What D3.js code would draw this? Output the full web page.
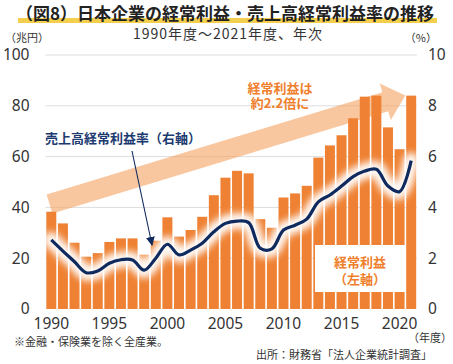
<!DOCTYPE html>
<html>
<head>
<meta charset="utf-8">
<script src="https://cdn.jsdelivr.net/npm/d3@7"></script>
<style>
  body { margin: 0; background: #fff; }
  svg { display: block; }
  .jp { font-family: "Noto Sans CJK JP", "Noto Sans", sans-serif; }
  .num { font-family: "Noto Sans", "Noto Sans CJK JP", sans-serif; }
</style>
</head>
<body>
<svg id="chart" width="453" height="364"></svg>
<script>
// data
const years = [1990, 1991, 1992, 1993, 1994, 1995, 1996, 1997, 1998, 1999,
  2000, 2001, 2002, 2003, 2004, 2005, 2006, 2007, 2008, 2009,
  2010, 2011, 2012, 2013, 2014, 2015, 2016, 2017, 2018, 2019, 2020, 2021];
// 経常利益 (兆円)
const profit = [38.3, 33.7, 26.1, 20.6, 22.0, 26.4, 27.8, 27.8, 21.4, 26.9,
  36.1, 28.5, 31.1, 36.3, 44.8, 51.7, 54.4, 53.4, 35.4, 32.0,
  43.9, 45.5, 48.5, 59.6, 64.4, 68.4, 75.1, 83.6, 84.0, 71.5, 62.9, 84.0];
// 売上高経常利益率 (%)
const ratio = [2.72, 2.28, 1.86, 1.43, 1.50, 1.80, 1.94, 1.93, 1.53, 2.00,
  2.55, 2.13, 2.32, 2.59, 3.04, 3.37, 3.46, 3.40, 2.39, 2.37,
  3.11, 3.30, 3.54, 4.22, 4.49, 4.84, 5.21, 5.43, 5.50, 4.84, 4.62, 5.84];
const leftTicks = [0, 20, 40, 60, 80, 100];
const rightTicks = [0, 2, 4, 6, 8, 10];
const xTicks = [1990, 1995, 2000, 2005, 2010, 2015, 2020];

const orange = "#ee8133";
const navy = "#0f2a5e";

const svg = d3.select("#chart");
const plot = { left: 45.5, right: 417, top: 55, bottom: 309 };

// scales
const x = d3.scaleBand()
  .domain(years)
  .range([plot.left, plot.right])
  .paddingInner(0.14)
  .paddingOuter(0.07);
const yL = d3.scaleLinear().domain([0, 100]).range([plot.bottom, plot.top]);
const yR = d3.scaleLinear().domain([0, 10]).range([plot.bottom, plot.top]);

const defs = svg.append("defs");
defs.append("filter")
  .attr("id", "glow")
  .attr("x", "-10%").attr("y", "-50%")
  .attr("width", "120%").attr("height", "200%")
  .append("feGaussianBlur")
  .attr("stdDeviation", 3.5);
defs.append("marker")
  .attr("id", "head")
  .attr("viewBox", "0 0 10 10")
  .attr("refX", 9).attr("refY", 5)
  .attr("markerWidth", 9).attr("markerHeight", 9)
  .attr("markerUnits", "userSpaceOnUse")
  .attr("orient", "auto")
  .append("path")
  .attr("d", "M0,0 L10,5 L0,10 z")
  .attr("fill", navy);

// title
svg.append("rect")
  .attr("x", 18).attr("y", 18)
  .attr("width", 419).attr("height", 5)
  .attr("fill", "#f4cf4e");
svg.append("text")
  .attr("class", "jp")
  .attr("x", 225).attr("y", 19.5)
  .attr("text-anchor", "middle")
  .attr("font-size", 17)
  .attr("font-weight", 700)
  .attr("fill", "#222")
  .text("（図8）日本企業の経常利益・売上高経常利益率の推移");
svg.append("text")
  .attr("class", "jp")
  .attr("x", 228).attr("y", 38.5)
  .attr("text-anchor", "middle")
  .attr("font-size", 14)
  .attr("letter-spacing", 1)
  .attr("fill", "#333")
  .text("1990年度～2021年度、年次");

svg.append("text")
  .attr("class", "jp")
  .attr("x", 5).attr("y", 42)
  .attr("font-size", 11)
  .attr("fill", "#333")
  .text("（兆円）");
svg.append("text")
  .attr("class", "jp")
  .attr("x", 437).attr("y", 42)
  .attr("text-anchor", "end")
  .attr("font-size", 11)
  .attr("fill", "#333")
  .text("（%）");

// gridlines
svg.append("g")
  .selectAll("line")
  .data(leftTicks.filter(d => d > 0))
  .join("line")
  .attr("x1", plot.left).attr("x2", plot.right)
  .attr("y1", d => yL(d)).attr("y2", d => yL(d))
  .attr("stroke", "#dddddd")
  .attr("stroke-width", 1);

// big growth arrow (behind the bars)
const start = [49.5, 204], base = [385.3, 101.7];
const ang = Math.atan2(base[1] - start[1], base[0] - start[0]) * 180 / Math.PI;
const len = Math.hypot(base[0] - start[0], base[1] - start[1]);
const hw = 10, hh = 19, hl = 21;
svg.append("path")
  .attr("transform", `translate(${start[0]},${start[1]}) rotate(${ang})`)
  .attr("d", `M0,${-hw} L${len},${-hw} L${len},${-hh} L${len + hl},0 L${len},${hh} L${len},${hw} L0,${hw} Z`)
  .attr("fill", "#f5a15f")
  .attr("opacity", 0.6);

// bars
svg.append("g")
  .selectAll("rect")
  .data(years)
  .join("rect")
  .attr("x", d => x(d))
  .attr("y", (d, i) => yL(profit[i]))
  .attr("width", x.bandwidth())
  .attr("height", (d, i) => yL(0) - yL(profit[i]))
  .attr("fill", orange);

// ratio line with white halo
const line = d3.line()
  .x((d, i) => x(years[i]) + x.bandwidth() / 2)
  .y(d => yR(d))
  .curve(d3.curveCatmullRom.alpha(0.5));

svg.append("path")
  .datum(ratio)
  .attr("d", line)
  .attr("fill", "none")
  .attr("stroke", "#fff")
  .attr("stroke-width", 16)
  .attr("stroke-linecap", "round")
  .attr("stroke-linejoin", "round")
  .attr("opacity", 0.95)
  .attr("filter", "url(#glow)");
svg.append("path")
  .datum(ratio)
  .attr("d", line)
  .attr("fill", "none")
  .attr("stroke", navy)
  .attr("stroke-width", 3.2)
  .attr("stroke-linejoin", "round");

// axes
const axisL = svg.append("g")
  .attr("class", "num")
  .attr("transform", `translate(${plot.left},0)`)
  .call(d3.axisLeft(yL).tickValues(leftTicks).tickSize(0).tickPadding(16));
const axisR = svg.append("g")
  .attr("class", "num")
  .attr("transform", `translate(${plot.right},0)`)
  .call(d3.axisRight(yR).tickValues(rightTicks).tickSize(0).tickPadding(11));
const axisB = svg.append("g")
  .attr("class", "num")
  .attr("transform", `translate(0,${plot.bottom})`)
  .call(d3.axisBottom(x).tickValues(xTicks).tickSize(0).tickPadding(9));

[axisL, axisR, axisB].forEach(g => {
  g.select(".domain").remove();
  g.attr("font-family", null).attr("font-size", null);
  g.selectAll("text")
    .attr("font-size", 15.5)
    .attr("fill", "#333");
});

svg.append("text")
  .attr("class", "jp")
  .attr("x", 452).attr("y", 342)
  .attr("text-anchor", "end")
  .attr("font-size", 11)
  .attr("fill", "#333")
  .text("（年度）");

// two-line labels as one text with tspans
function multiLabel(lines, cx, y0, gap) {
  const t = svg.append("text")
    .attr("class", "jp")
    .attr("font-size", 13)
    .attr("font-weight", 700)
    .attr("fill", "#ef7f2c")
    .attr("text-anchor", "middle")
    .attr("x", cx).attr("y", y0);
  t.selectAll("tspan")
    .data(lines)
    .join("tspan")
    .attr("x", cx)
    .attr("dy", (d, i) => i === 0 ? 0 : gap)
    .text(d => d);
}

multiLabel(["経常利益は", "約2.2倍に"], 280, 93, 15);

svg.append("text")
  .attr("class", "jp")
  .attr("x", 45).attr("y", 143)
  .attr("font-size", 13)
  .attr("font-weight", 700)
  .attr("fill", "#1b3a70")
  .text("売上高経常利益率（右軸）");
svg.append("line")
  .attr("x1", 132).attr("y1", 151)
  .attr("x2", 152).attr("y2", 245)
  .attr("stroke", navy)
  .attr("stroke-width", 1.1)
  .attr("marker-end", "url(#head)");

svg.append("rect")
  .attr("x", 315).attr("y", 245)
  .attr("width", 91).attr("height", 47)
  .attr("fill", "#fff");
multiLabel(["経常利益", "（左軸）"], 360, 266.5, 17);

// footnotes
svg.append("text")
  .attr("class", "jp")
  .attr("x", 14).attr("y", 346)
  .attr("font-size", 11)
  .attr("fill", "#333")
  .text("※金融・保険業を除く全産業。");
svg.append("text")
  .attr("class", "jp")
  .attr("x", 432).attr("y", 359)
  .attr("text-anchor", "end")
  .attr("font-size", 11)
  .attr("fill", "#333")
  .text("出所：財務省「法人企業統計調査」");
</script>
</body>
</html>
